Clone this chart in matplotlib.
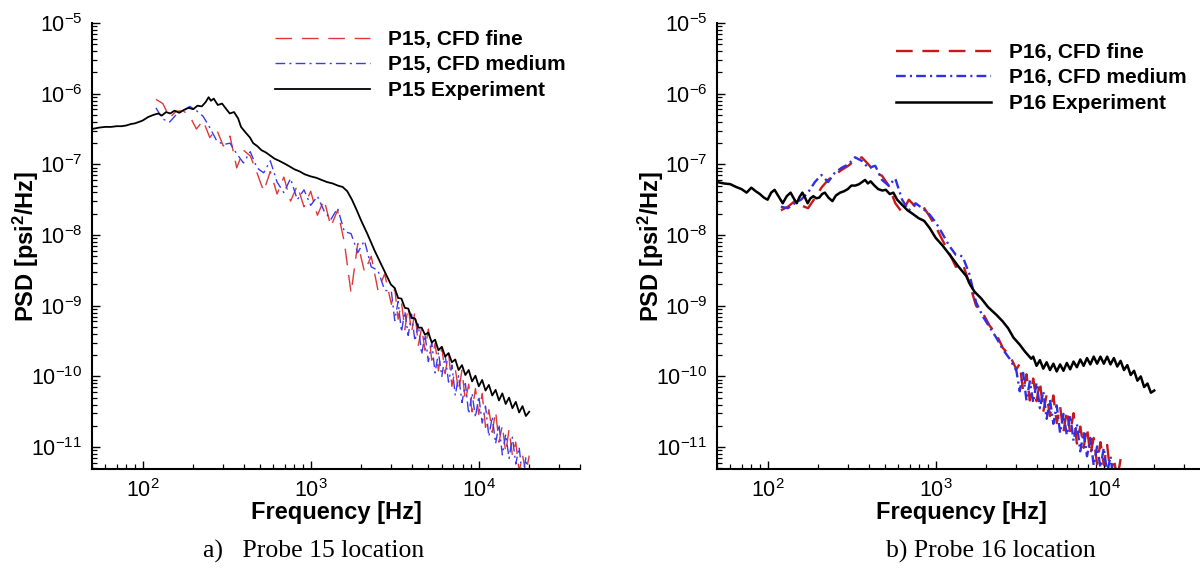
import numpy as np
import matplotlib
matplotlib.use("Agg")
import matplotlib.pyplot as plt
from matplotlib.ticker import (LogLocator, NullFormatter, FuncFormatter,
                               FixedLocator)

# ---------------- data ----------------
# shared frequency sampling for CFD curves [Hz]
F_LO = [120, 132, 145, 158, 174, 191, 209, 229, 251, 275, 302, 331, 363, 398,
        437, 479, 525, 575, 631, 692, 759, 832, 912, 1000, 1096, 1202, 1318,
        1445, 1585, 1738, 1905, 2089, 2291, 2512, 2754, 3020]
F_HI = [3162, 3311, 3467, 3631, 3802, 3981, 4169, 4365, 4571, 4786, 5012,
        5248, 5495, 5754, 6026, 6310, 6607, 6918, 7244, 7586, 7943, 8318,
        8710, 9120, 9550, 10000, 10471, 10965, 11482, 12023, 12589, 13183,
        13804, 14454, 15136, 15849, 16596, 17378, 18197, 19055, 19953]
F_CFD = F_LO + F_HI

X_TICKS = [1e2, 1e3, 1e4]
Y_TICKS = [1e-11, 1e-10, 1e-9, 1e-8, 1e-7, 1e-6, 1e-5]

# Probe 15 -- log10(PSD)
p15_fine = [-6.08, -6.14, -6.34, -6.25, -6.24, -6.32, -6.50, -6.38, -6.62, -6.50,
            -6.74, -6.60, -7.05, -6.80, -6.88, -7.12, -7.38, -7.10, -7.42, -7.18,
            -7.52, -7.30, -7.60, -7.38, -7.72, -7.50, -7.88, -7.65, -8.10, -8.82,
            -8.12, -8.52, -8.30, -8.78, -8.55, -8.98,
            -8.75, -9.19, -8.95, -9.34, -9.01, -9.38, -9.08, -9.56, -9.31, -9.63,
            -9.33, -9.77, -9.53, -9.92, -9.59, -9.96, -9.66, -10.14, -9.89, -10.21,
            -9.91, -10.35, -10.11, -10.50, -10.17, -10.54, -10.24, -10.72, -10.47,
            -10.79, -10.49, -10.93, -10.69, -11.08, -10.75, -11.12, -10.93, -11.35,
            -11.11, -11.37, -11.12]
p15_medium = [-6.20, -6.36, -6.40, -6.30, -6.24, -6.18, -6.24, -6.32, -6.48, -6.66,
              -6.72, -6.70, -6.85, -6.98, -6.82, -7.05, -7.12, -6.95, -7.25, -7.40,
              -7.20, -7.50, -7.36, -7.58, -7.45, -7.66, -7.78, -7.62, -7.95, -7.98,
              -8.25, -8.08, -8.45, -8.50, -8.78, -8.80,
              -9.21, -8.94, -9.37, -9.08, -9.42, -9.12, -9.50, -9.26, -9.69, -9.41,
              -9.79, -9.52, -9.95, -9.66, -10.00, -9.70, -10.08, -9.84, -10.27, -9.99,
              -10.37, -10.10, -10.53, -10.24, -10.58, -10.28, -10.66, -10.42, -10.85,
              -10.57, -10.95, -10.68, -11.11, -10.82, -11.16, -10.86, -11.24, -11.00,
              -11.43, -11.15, -11.50]
f15_exp = [50, 55, 60, 65, 70, 75, 80, 85, 90, 95, 100, 108, 116, 124, 130, 138,
           146, 155, 165, 176, 188, 200, 212, 225, 237, 247, 255, 265, 280, 297,
           315, 330, 350, 370, 385, 410, 435, 455, 480, 510, 540, 570, 610, 650,
           700, 750, 800, 860, 920, 1000, 1080, 1160, 1250, 1350, 1450, 1550, 1650,
           1760, 1880, 2000, 2170, 2400, 2670, 3000] + F_HI
p15_exp = [-6.50, -6.48, -6.47, -6.47, -6.46, -6.46, -6.45, -6.43, -6.42, -6.40,
           -6.38, -6.33, -6.30, -6.28, -6.31, -6.26, -6.28, -6.24, -6.27, -6.23,
           -6.20, -6.22, -6.17, -6.18, -6.12, -6.05, -6.10, -6.07, -6.16, -6.14,
           -6.22, -6.28, -6.26, -6.35, -6.47, -6.55, -6.62, -6.70, -6.74, -6.80,
           -6.83, -6.87, -6.92, -6.95, -6.99, -7.03, -7.07, -7.10, -7.14, -7.17,
           -7.19, -7.22, -7.25, -7.27, -7.30, -7.32, -7.38, -7.50, -7.65, -7.80,
           -7.98, -8.22, -8.45, -8.70,
           -8.75, -8.89, -8.90, -9.03, -9.04, -9.17, -9.18, -9.31, -9.31, -9.41,
           -9.38, -9.52, -9.48, -9.63, -9.58, -9.72, -9.67, -9.80, -9.76, -9.91,
           -9.84, -9.98, -9.91, -10.07, -9.99, -10.14, -10.05, -10.20, -10.12,
           -10.27, -10.19, -10.34, -10.24, -10.39, -10.30, -10.45, -10.36, -10.51,
           -10.42, -10.56, -10.50]

# Probe 16 -- log10(PSD)
p16_fine = [-7.65, -7.60, -7.52, -7.58, -7.62, -7.48, -7.33, -7.22, -7.15, -7.08,
            -7.02, -6.94, -6.90, -7.00, -7.12, -7.16, -7.30, -7.55, -7.68, -7.50,
            -7.60, -7.58, -7.72, -7.88, -8.07, -8.25, -8.45, -8.40, -8.68, -9.00,
            -9.10, -9.28, -9.40, -9.60, -9.70, -9.90,
            -9.82, -10.21, -9.97, -10.34, -10.03, -10.35, -10.07, -10.50, -10.26,
            -10.56, -10.27, -10.66, -10.42, -10.79, -10.48, -10.80, -10.52, -10.95,
            -10.71, -11.01, -10.72, -11.11, -10.87, -11.24, -10.93, -11.25, -10.97,
            -11.40, -11.16, -11.46, -11.17]
p16_medium = [-7.60, -7.62, -7.55, -7.50, -7.40, -7.25, -7.15, -7.25, -7.12, -7.05,
              -7.00, -6.90, -6.95, -7.05, -7.02, -7.22, -7.30, -7.20, -7.50, -7.65,
              -7.55, -7.62, -7.70, -7.82, -7.98, -8.15, -8.28, -8.30, -8.55, -8.95,
              -9.15, -9.30, -9.45, -9.62, -9.75, -9.92,
              -10.21, -9.95, -10.34, -10.07, -10.37, -10.09, -10.45, -10.21, -10.60,
              -10.33, -10.67, -10.41, -10.80, -10.53, -10.83, -10.55, -10.91, -10.67,
              -11.06, -10.79, -11.13, -10.87, -11.26, -10.99, -11.29, -11.01, -11.37,
              -11.13, -11.52]
f16_exp = [50, 55, 60, 65, 70, 75, 80, 85, 90, 95, 100, 105, 110, 116, 123, 130,
           137, 143, 149, 155, 161, 167, 173, 180, 187, 195, 203, 211, 219, 230,
           243, 255, 270, 285, 300, 315, 333, 350, 365, 380, 395, 410, 432, 455,
           481, 505, 533, 560, 590, 630, 680, 730, 790, 854, 920, 1000, 1100, 1230,
           1370, 1520, 1600, 1700, 1870, 2050, 2300, 2500, 2700, 2900, 3160, 3400,
           3700] + F_HI[4:]
p16_exp = [-7.25, -7.27, -7.28, -7.32, -7.35, -7.40, -7.33, -7.38, -7.42, -7.47,
           -7.50, -7.40, -7.36, -7.45, -7.55, -7.45, -7.40, -7.48, -7.55, -7.46,
           -7.40, -7.47, -7.55, -7.48, -7.45, -7.48, -7.47, -7.42, -7.40, -7.47,
           -7.52, -7.44, -7.40, -7.38, -7.35, -7.30, -7.30, -7.28, -7.25, -7.22,
           -7.27, -7.24, -7.30, -7.35, -7.37, -7.36, -7.42, -7.40, -7.50, -7.57,
           -7.65, -7.70, -7.76, -7.80, -7.90, -8.04, -8.15, -8.30, -8.45, -8.58,
           -8.70, -8.80, -8.90, -9.02, -9.13, -9.22, -9.32, -9.45, -9.55, -9.65,
           -9.75,
           -9.72, -9.85, -9.77, -9.89, -9.80, -9.91, -9.82, -9.93, -9.83, -9.92,
           -9.81, -9.90, -9.79, -9.87, -9.76, -9.85, -9.74, -9.83, -9.72, -9.82,
           -9.72, -9.82, -9.72, -9.83, -9.74, -9.86, -9.78, -9.91, -9.84, -9.98,
           -9.92, -10.06, -10.00, -10.15, -10.10, -10.23, -10.20]

LABELS_A = ["P15, CFD fine", "P15, CFD medium", "P15 Experiment"]
LABELS_B = ["P16, CFD fine", "P16, CFD medium", "P16 Experiment"]
CAPTIONS = ["a)   Probe 15 location", "b) Probe 16 location"]

# ---------------- styling ----------------
plt.rcParams.update({
    "font.family": ["Liberation Sans", "DejaVu Sans"],
    "mathtext.fontset": "custom",
    "mathtext.rm": "Liberation Sans",
    "mathtext.bf": "Liberation Sans:bold",
    "mathtext.it": "Liberation Sans:italic",
    "mathtext.default": "regular",
    "lines.scale_dashes": False,
})

W, H = 1200, 569
fig = plt.figure(figsize=(W / 100, H / 100), dpi=100)


def px_axes(x0, x1, y0, y1):
    return fig.add_axes([x0 / W, 1 - y1 / H, (x1 - x0) / W, (y1 - y0) / H])


def sci(v, pos):
    e = int(round(np.log10(v)))
    return r"$10^{%d}$" % e


def setup(ax):
    ax.set_xscale("log")
    ax.set_yscale("log")
    ax.set_xlim(50, 4e4)
    ax.set_ylim(4.9e-12, 1e-5)
    for s in ["top", "right"]:
        ax.spines[s].set_visible(False)
    for s in ["left", "bottom"]:
        ax.spines[s].set_linewidth(1.5)
    ax.xaxis.set_major_locator(FixedLocator(X_TICKS))
    ax.yaxis.set_major_locator(FixedLocator(Y_TICKS))
    for axis in (ax.xaxis, ax.yaxis):
        axis.set_minor_locator(LogLocator(base=10, subs=np.arange(2, 10), numticks=200))
        axis.set_major_formatter(FuncFormatter(sci))
        axis.set_minor_formatter(NullFormatter())
    ax.tick_params(which="major", direction="in", length=6, width=1.0,
                   labelsize=15.5, pad=7)
    ax.tick_params(which="minor", direction="in", length=3.5, width=0.9)
    ax.set_xlabel("Frequency [Hz]", fontsize=17, fontweight="bold", va="center")
    ax.xaxis.set_label_coords(0.5, (469 - 513) / 446)
    ax.set_ylabel(r"PSD [psi$^{\mathbf{2}}$/Hz]", fontsize=17, fontweight="bold",
                  va="center")
    ax.yaxis.set_label_coords(-0.135, 0.5)


def draw(ax, fcfd, fine, med, fexp, exp, labels, lw_cfd, lw_exp, red, blue,
         leg_x, leg_y):
    fine = np.array(fine)
    med = np.array(med)
    exp = np.array(exp)
    ax.plot(fcfd[:len(fine)], 10.0 ** fine, color=red, lw=lw_cfd,
            linestyle=(0, (12, 7)), label=labels[0])
    ax.plot(fcfd[:len(med)], 10.0 ** med, color=blue, lw=lw_cfd,
            linestyle=(0, (7, 3, 1.5, 3)), label=labels[1])
    ax.plot(fexp, 10.0 ** exp, color="black", lw=lw_exp, label=labels[2])
    ax.legend(loc="upper left", bbox_to_anchor=(leg_x / W, 1 - leg_y / H),
              bbox_transform=fig.transFigure, frameon=False,
              prop={"size": 15, "weight": "bold"}, handlelength=4.55,
              handletextpad=0.87, labelspacing=0.31, borderpad=0,
              borderaxespad=0)


ax1 = px_axes(92, 580, 23, 469)
setup(ax1)
draw(ax1, F_CFD, p15_fine, p15_medium, f15_exp, p15_exp, LABELS_A,
     1.0, 1.3, "#e03838", "#3a3af0", 275, 30)

ax2 = px_axes(717, 1205, 23, 469)
setup(ax2)
draw(ax2, F_CFD, p16_fine, p16_medium, f16_exp, p16_exp, LABELS_B,
     1.7, 1.8, "#c81818", "#2f2fe6", 896, 43)

fig.text(314 / W, 1 - 551 / H, CAPTIONS[0], family="Liberation Serif",
         fontsize=18.5, ha="center", va="center")
fig.text(991 / W, 1 - 551 / H, CAPTIONS[1], family="Liberation Serif",
         fontsize=18.5, ha="center", va="center")

fig.savefig("out.png", dpi=100)
